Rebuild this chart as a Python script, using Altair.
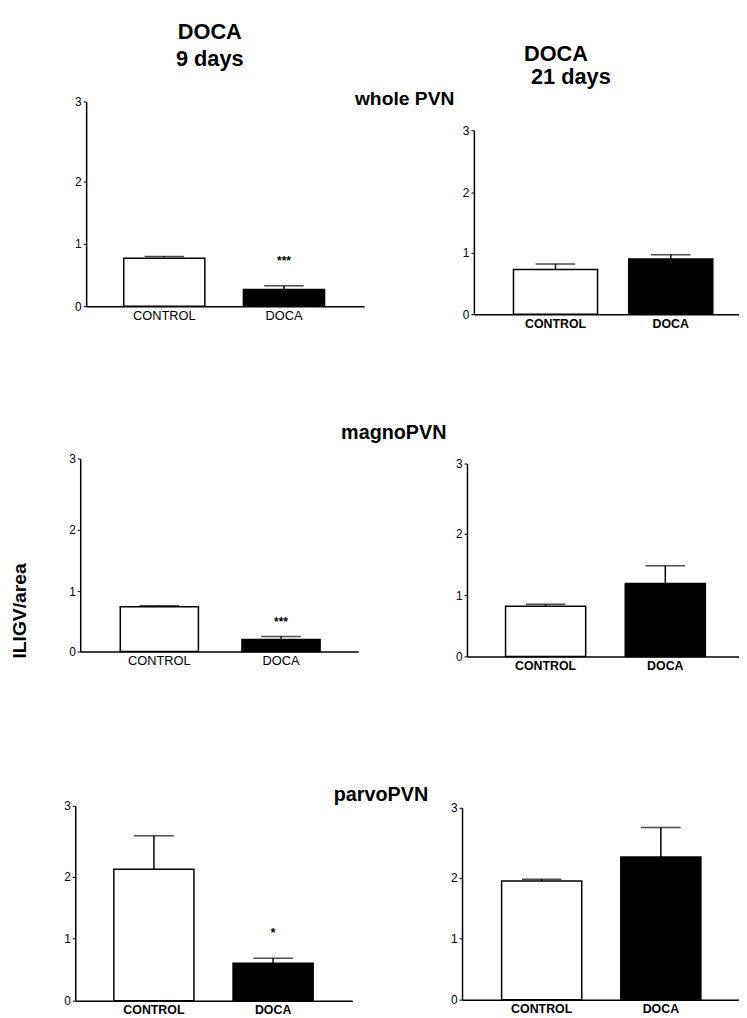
import altair as alt
import pandas as pd

# ---------------- data ----------------
categories = ["CONTROL", "DOCA"]
durations = ["9 days", "21 days"]
regions = ["whole PVN", "magnoPVN", "parvoPVN"]
header_word = "DOCA"
y_axis_title = "ILIGV/area"
y_ticks = [0, 1, 2, 3]

whole_9_mean = [0.77, 0.27]
whole_9_upper = [0.80, 0.33]
whole_21_mean = [0.73, 0.90]
whole_21_upper = [0.82, 0.97]

magno_9_mean = [0.74, 0.20]
magno_9_upper = [0.76, 0.25]
magno_21_mean = [0.82, 1.19]
magno_21_upper = [0.85, 1.48]

parvo_9_mean = [2.11, 0.60]
parvo_9_upper = [2.58, 0.68]
parvo_21_mean = [1.95, 2.30]
parvo_21_upper = [1.98, 2.72]

sig_9_labels = ["***", "***", "*"]
sig_9_heights = [0.73, 0.49, 1.08]

# ---------------- layout (page pixels) ----------------
FONT = "Liberation Sans"
M = 8  # page margin
W, H = 739, 1010

layout = {
    ("whole PVN", "9 days"): dict(ax=87, end=368, c=(166, 287), bw=82, ty=(304, 241, 178, 97), bold=False),
    ("whole PVN", "21 days"): dict(ax=479, end=747, c=(561.5, 678), bw=85, ty=(312, 250, 189, 126), bold=True),
    ("magnoPVN", "9 days"): dict(ax=81, end=362, c=(161, 284), bw=79, ty=(653, 592, 530, 458), bold=False),
    ("magnoPVN", "21 days"): dict(ax=472, end=747, c=(551.5, 672.5), bw=81, ty=(658, 596, 534, 463), bold=True),
    ("parvoPVN", "9 days"): dict(ax=76, end=356, c=(155.5, 276), bw=81, ty=(1006, 943, 881, 809), bold=True),
    ("parvoPVN", "21 days"): dict(ax=467, end=747, c=(547.5, 668), bw=81, ty=(1005, 943, 882, 811), bold=True),
}

series = {
    ("whole PVN", "9 days"): (whole_9_mean, whole_9_upper),
    ("whole PVN", "21 days"): (whole_21_mean, whole_21_upper),
    ("magnoPVN", "9 days"): (magno_9_mean, magno_9_upper),
    ("magnoPVN", "21 days"): (magno_21_mean, magno_21_upper),
    ("parvoPVN", "9 days"): (parvo_9_mean, parvo_9_upper),
    ("parvoPVN", "21 days"): (parvo_21_mean, parvo_21_upper),
}


def band_params(L):
    a, b = L["ax"] - M, L["end"] - M
    total = b - a
    s = L["c"][1] - L["c"][0]
    pi = 1 - L["bw"] / s
    po = (total / s - 2 + pi) / 2
    space = total - s * (2 - pi)
    align = (L["c"][0] - L["bw"] / 2 - L["ax"]) / space
    return dict(domain=categories, range=[a, b], paddingInner=pi,
                paddingOuter=max(po, 0), align=min(max(align, 0), 1))


def panel(key, stars=None):
    L = layout[key]
    mean, upper = series[key]
    df = pd.DataFrame({"group": categories, "mean": mean, "upper": upper})
    xs = alt.Scale(**band_params(L))
    ys = alt.Scale(domain=y_ticks, range=[t - M for t in L["ty"]], nice=False)
    x = alt.X("group:N", scale=xs, sort=categories,
              axis=alt.Axis(orient="bottom", offset=(L["ty"][0] - M) - H, title=None,
                            labelAngle=0, ticks=False, domainColor="black", domainWidth=1.5,
                            labelColor="black", labelFont=FONT,
                            labelFontSize=12.5 if L["bold"] else 13,
                            labelFontWeight="bold" if L["bold"] else "normal",
                            labelPadding=3, grid=False))
    y_axis = alt.Axis(orient="left", offset=-(L["ax"] - M), title=None, values=y_ticks,
                      tickSize=3, tickColor="black", tickWidth=1, domainColor="black",
                      domainWidth=1.5, labelColor="black", labelFont=FONT, labelFontSize=12,
                      labelPadding=2, grid=False, format="d")
    base = alt.Chart(df)
    bars = base.mark_bar(stroke="black", strokeWidth=1.5).encode(
        x=x,
        y=alt.Y("mean:Q", scale=ys, axis=y_axis),
        fill=alt.Fill("group:N", scale=alt.Scale(domain=categories, range=["white", "black"]), legend=None),
    )
    err = base.mark_rule(color="black", strokeWidth=1.5).encode(
        x=x, y=alt.Y("mean:Q", scale=ys, axis=y_axis), y2="upper:Q")
    cap = base.mark_tick(color="black", thickness=1.5, size=40).encode(
        x=x, y=alt.Y("upper:Q", scale=ys, axis=y_axis))
    layers = [bars, err, cap]
    if stars is not None:
        sdf = pd.DataFrame({"group": [categories[1]], "h": [stars[1]], "s": [stars[0]]})
        layers.append(alt.Chart(sdf).mark_text(font=FONT, fontSize=12, fontWeight="bold",
                                               baseline="middle", color="black").encode(
            x=x, y=alt.Y("h:Q", scale=ys, axis=y_axis), text="s:N"))
    return alt.layer(*layers)


def label(text, x, y, size, angle=0, baseline="alphabetic"):
    return alt.Chart(pd.DataFrame({"t": [text]})).mark_text(
        font=FONT, fontSize=size, fontWeight="bold", align="center", baseline=baseline,
        angle=angle, color="black").encode(x=alt.value(x - M), y=alt.value(y - M), text="t:N")


panels = []
for i, r in enumerate(regions):
    panels.append(panel((r, durations[0]), (sig_9_labels[i], sig_9_heights[i])))
    panels.append(panel((r, durations[1])))

labels = [
    label(header_word, 212, 34, 22),
    label(durations[0], 212, 61, 22),
    label(header_word, 562, 56, 22),
    label(durations[1], 577, 79, 22),
    label(regions[0], 409, 101, 19.5),
    label(regions[1], 398, 438, 20),
    label(regions[2], 385, 804, 20),
    label(y_axis_title, 20, 612, 19.5, angle=270, baseline="middle"),
]

chart = alt.layer(*panels, *labels).resolve_scale(
    x="independent", y="independent"
).resolve_axis(
    x="independent", y="independent"
).properties(
    width=W, height=H, autosize=alt.AutoSizeParams(type="none"), padding=0,
    background="white",
).configure_view(stroke=None)

chart.save("out.html", embed_options={"renderer": "svg", "actions": False})
